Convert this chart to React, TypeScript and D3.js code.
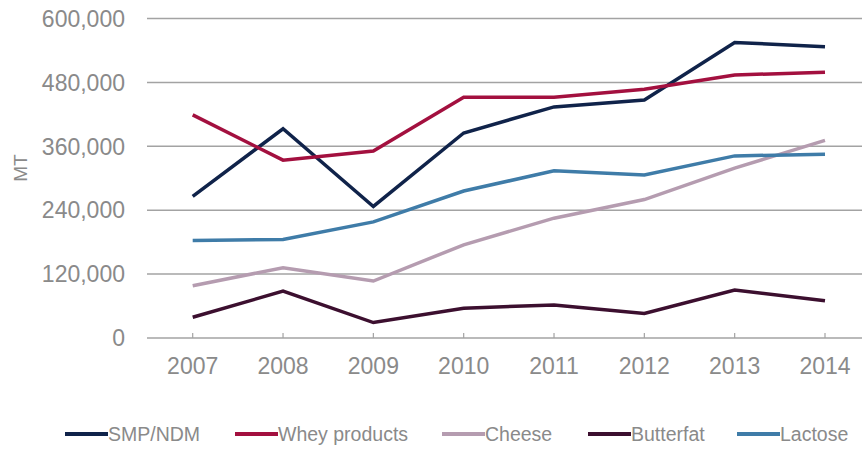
import React from "react";
import * as d3 from "d3";

const years = ["2007", "2008", "2009", "2010", "2011", "2012", "2013", "2014"];
const yTicks = [0, 120000, 240000, 360000, 480000, 600000];

const smpNdm = [266000, 393000, 247000, 385000, 434000, 447000, 555000, 547000];
const whey = [419000, 334000, 351000, 452000, 452000, 467000, 494000, 499000];
const cheese = [98000, 132000, 107000, 175000, 225000, 260000, 319000, 371000];
const butterfat = [39000, 88000, 29000, 56000, 62000, 46000, 90000, 70000];
const lactose = [183000, 185000, 218000, 276000, 314000, 306000, 342000, 345000];

const seriesNames = ["SMP/NDM", "Whey products", "Cheese", "Butterfat", "Lactose"];
const seriesValues = [smpNdm, whey, cheese, butterfat, lactose];
const seriesColors = ["#10234a", "#a3103f", "#b59cb0", "#3c0f2f", "#3f7ca8"];
const legendX = [65, 235, 442, 588, 737];

const W = 862;
const H = 449;
const font = "'Liberation Sans', Arial, sans-serif";
const textColor = "#8a8a8a";
const gridColor = "#a3a3a3";

export default function App() {
  const x = d3.scalePoint<string>().domain(years).range([192.7, 825]);
  const y = d3.scaleLinear().domain([0, 600000]).range([338, 18.5]);
  const line = d3
    .line<number>()
    .x((_, i) => x(years[i]) as number)
    .y((d) => y(d));
  const fmt = d3.format(",");

  return (
    <svg
      width={W}
      height={H}
      style={{ position: "absolute", left: 0, top: 0, background: "#fff" }}
      fontFamily={font}
    >
      {yTicks.map((t) => (
        <g key={t}>
          <line x1={147} x2={W} y1={y(t)} y2={y(t)} stroke={gridColor} strokeWidth={1.5} />
          <text
            x={125}
            y={y(t)}
            dy="0.36em"
            textAnchor="end"
            fontSize={23}
            fill={textColor}
          >
            {fmt(t)}
          </text>
        </g>
      ))}
      {years.map((yr) => (
        <g key={yr}>
          <line
            x1={x(yr)}
            x2={x(yr)}
            y1={y(0) - 5}
            y2={y(0)}
            stroke={gridColor}
            strokeWidth={1.2}
          />
          <text x={x(yr)} y={374} textAnchor="middle" fontSize={23} fill={textColor}>
            {yr}
          </text>
        </g>
      ))}
      <text
        transform={`translate(27,168) rotate(-90)`}
        textAnchor="middle"
        fontSize={19}
        fill={textColor}
      >
        MT
      </text>
      {seriesValues.map((vals, i) => (
        <path
          key={seriesNames[i]}
          d={line(vals) || ""}
          fill="none"
          stroke={seriesColors[i]}
          strokeWidth={3.5}
        />
      ))}
      {seriesNames.map((name, i) => (
        <g key={name} transform={`translate(${legendX[i]},434)`}>
          <line x1={0} x2={43} y1={0} y2={0} stroke={seriesColors[i]} strokeWidth={4} />
          <text x={43} y={0} dy="0.36em" fontSize={19.5} fill={textColor}>
            {name}
          </text>
        </g>
      ))}
    </svg>
  );
}
